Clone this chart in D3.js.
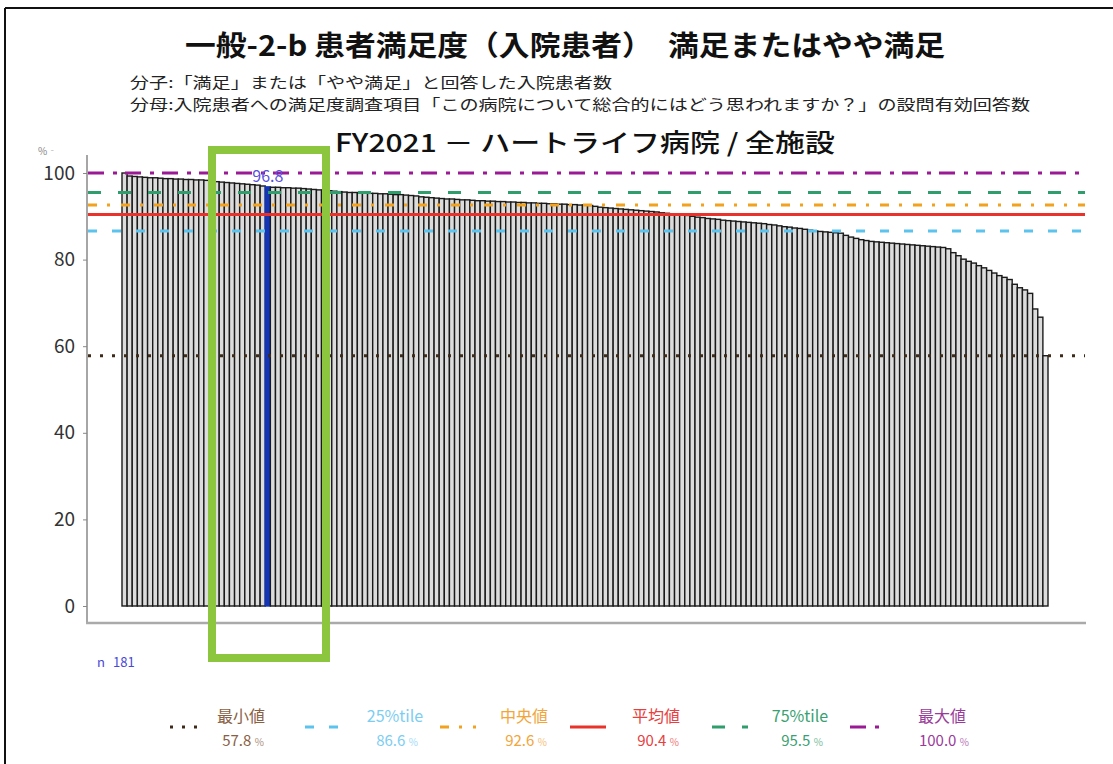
<!DOCTYPE html>
<html><head><meta charset="utf-8">
<script src="https://cdn.jsdelivr.net/npm/d3@7/dist/d3.min.js"></script>
<style>
html,body{margin:0;padding:0;background:#fff;}
svg{display:block;}
text{font-family:"Noto Sans CJK JP","Noto Sans",sans-serif;}
</style></head>
<body>
<svg id="chart" width="1113" height="764"></svg>
<script>
// ---- data ----
const titleText = "一般-2-b 患者満足度（入院患者）　満足またはやや満足";
const numeratorText = "分子:「満足」または「やや満足」と回答した入院患者数";
const denominatorText = "分母:入院患者への満足度調査項目「この病院について総合的にはどう思われますか？」の設問有効回答数";
const subtitleText = "FY2021 － ハートライフ病院 / 全施設";
const facilityIds = d3.range(1, 182);
const satisfaction = [
 100.0, 99.3, 99.2, 99.1, 99.0, 98.9, 98.9, 98.8, 98.7, 98.7,
 98.6, 98.6, 98.5, 98.5, 98.4, 98.4, 98.3, 98.2, 98.0, 97.9,
 97.8, 97.7, 97.6, 97.5, 97.4, 97.3, 97.2, 97.0, 96.8, 96.7,
 96.7, 96.6, 96.6, 96.5, 96.5, 96.4, 96.3, 96.2, 96.1, 96.0,
 95.9, 95.8, 95.7, 95.6, 95.5, 95.5, 95.4, 95.4, 95.3, 95.3,
 95.2, 95.2, 95.1, 95.0, 95.0, 94.9, 94.8, 94.7, 94.5, 94.4,
 94.3, 94.2, 94.1, 94.0, 94.0, 93.9, 93.8, 93.8, 93.7, 93.6,
 93.6, 93.5, 93.5, 93.4, 93.4, 93.3, 93.3, 93.2, 93.2, 93.1,
 93.1, 93.0, 93.0, 92.9, 92.9, 92.8, 92.8, 92.7, 92.7, 92.6,
 92.6, 92.5, 92.3, 92.1, 92.0, 91.9, 91.8, 91.7, 91.6, 91.5,
 91.4, 91.3, 91.2, 91.1, 91.0, 90.8, 90.7, 90.6, 90.5, 90.4,
 90.2, 90.0, 89.8, 89.7, 89.5, 89.4, 89.3, 89.1, 89.0, 88.9,
 88.8, 88.7, 88.6, 88.5, 88.4, 88.3, 88.1, 88.0, 87.8, 87.6,
 87.5, 87.3, 87.2, 87.0, 86.8, 86.6, 86.5, 86.4, 86.3, 86.2,
 86.1, 85.6, 85.2, 84.9, 84.6, 84.4, 84.2, 84.1, 84.0, 83.9,
 83.8, 83.7, 83.6, 83.5, 83.4, 83.3, 83.2, 83.1, 83.0, 82.9,
 82.8, 82.5, 81.6, 80.9, 80.1, 79.6, 79.2, 78.6, 78.1, 77.5,
 76.9, 76.3, 75.9, 75.4, 74.3, 73.5, 73.0, 72.2, 68.6, 66.7, 57.8
];
const highlightIndex = 28;
const nCount = 181;
const yTicks = [0, 20, 40, 60, 80, 100];
const statNames = ["最小値", "25%tile", "中央値", "平均値", "75%tile", "最大値"];
const statValues = [57.8, 86.6, 92.6, 90.4, 95.5, 100.0];
const statColors = ["#3d2a18", "#5cc3ee", "#f2a21e", "#e8322a", "#2f9d6c", "#9a1a96"];
const statTextColors = ["#8a6042", "#7ccdf2", "#f2a53a", "#e84040", "#3a9f72", "#9a3a9a"];
const statDashes = ["3,9", "9,15", "9,10,3,11", null, "13,17", "16,9,4,8"];

// ---- drawing ----
const svg = d3.select("#chart");
svg.append("rect").attr("width",1113).attr("height",764).attr("fill","#fff");
// frame
svg.append("line").attr("x1",5).attr("x2",1113).attr("y1",8).attr("y2",8).attr("stroke","#111").attr("stroke-width",2);
svg.append("line").attr("x1",5).attr("x2",5).attr("y1",8).attr("y2",764).attr("stroke","#111").attr("stroke-width",2);

svg.append("text").attr("x",185).attr("y",56)
  .attr("font-size",28).attr("font-weight","bold").attr("fill","#111")
  .attr("textLength",760).attr("lengthAdjust","spacingAndGlyphs").text(titleText);
svg.append("text").attr("x",130).attr("y",88).attr("font-size",15).attr("fill","#222")
  .attr("textLength",482).attr("lengthAdjust","spacingAndGlyphs").text(numeratorText);
svg.append("text").attr("x",130).attr("y",110).attr("font-size",15).attr("fill","#222")
  .attr("textLength",900).attr("lengthAdjust","spacingAndGlyphs").text(denominatorText);
svg.append("text").attr("x",335).attr("y",152)
  .attr("font-size",25).attr("font-weight","500").attr("fill","#111")
  .attr("textLength",500).attr("lengthAdjust","spacingAndGlyphs").text(subtitleText);

const x = d3.scaleBand().domain(facilityIds).range([122, 1048]).padding(0);
const y = d3.scaleLinear().domain([0, 100]).range([606, 173]);

// axes
svg.append("line").attr("x1",87).attr("x2",87).attr("y1",155).attr("y2",624).attr("stroke","#888").attr("stroke-width",1.5);
svg.append("line").attr("x1",86).attr("x2",1086).attr("y1",623).attr("y2",623).attr("stroke","#aaa").attr("stroke-width",2.5);
const yAxis = svg.append("g").attr("transform","translate(87,0)")
  .call(d3.axisLeft(y).tickValues(yTicks).tickSize(4).tickPadding(8));
yAxis.select(".domain").remove();
yAxis.selectAll(".tick line").attr("stroke","#888");
yAxis.selectAll(".tick text").attr("font-size",19).attr("fill","#333")
  .attr("font-family","'Noto Sans',sans-serif");
svg.append("text").attr("x",38).attr("y",155).attr("font-size",10).attr("fill","#888").text("%‐");

// bars
svg.append("g").selectAll("rect").data(satisfaction).join("rect")
  .attr("x",(d,i)=>x(facilityIds[i]))
  .attr("y",d=>y(d))
  .attr("width",x.bandwidth())
  .attr("height",d=>y(0)-y(d))
  .attr("fill",(d,i)=>i===highlightIndex?"#1535b8":"#dcdcdc")
  .attr("stroke",(d,i)=>i===highlightIndex?"#1535b8":"#1a1a1a")
  .attr("stroke-width",1.4);

// reference lines
const refG = svg.append("g");
statValues.forEach((v,i)=>{
  refG.append("line").attr("x1",88).attr("x2",1085)
    .attr("y1",y(v)).attr("y2",y(v))
    .attr("stroke",statColors[i]).attr("stroke-width",3)
    .attr("stroke-dasharray",statDashes[i]);
});

// highlight label
svg.append("text").attr("x",x(facilityIds[highlightIndex])+x.bandwidth()/2).attr("y",182)
  .attr("text-anchor","middle").attr("font-size",16).attr("fill","#5a50e0")
  .attr("font-family","'DejaVu Sans Mono',monospace").text(satisfaction[highlightIndex].toFixed(1));

// n label
svg.append("text").attr("x",97).attr("y",667).attr("font-size",13).attr("fill","#4848d8")
  .attr("font-family","'DejaVu Sans Mono',monospace").text("n");
svg.append("text").attr("x",113).attr("y",667).attr("font-size",13).attr("fill","#4848d8")
  .attr("font-family","'DejaVu Sans Mono',monospace").text(nCount);

// green annotation rect
svg.append("rect").attr("x",212).attr("y",150).attr("width",114).attr("height",508)
  .attr("fill","none").attr("stroke","#8cc63e").attr("stroke-width",8);

// legend
const symX = [170, 305, 440, 570, 712, 850];
const txtX = [241, 395, 524, 656, 800, 942];
const lg = svg.append("g");
statValues.forEach((v,i)=>{
  lg.append("line").attr("x1",symX[i]).attr("x2",symX[i]+36).attr("y1",727).attr("y2",727)
    .attr("stroke",statColors[i]).attr("stroke-width",3).attr("stroke-dasharray",statDashes[i]);
  lg.append("text").attr("x",txtX[i]).attr("y",722).attr("text-anchor","middle")
    .attr("font-size",16).attr("fill",statTextColors[i]).text(statNames[i]);
  const t = lg.append("text").attr("x",txtX[i]+2).attr("y",746).attr("text-anchor","middle")
    .attr("font-size",15).attr("fill",statTextColors[i]).attr("font-family","'DejaVu Sans Mono',monospace");
  t.append("tspan").text(v.toFixed(1) + " ");
  t.append("tspan").attr("font-size",10).attr("opacity",0.7).text("%");
});
</script>
</body></html>
